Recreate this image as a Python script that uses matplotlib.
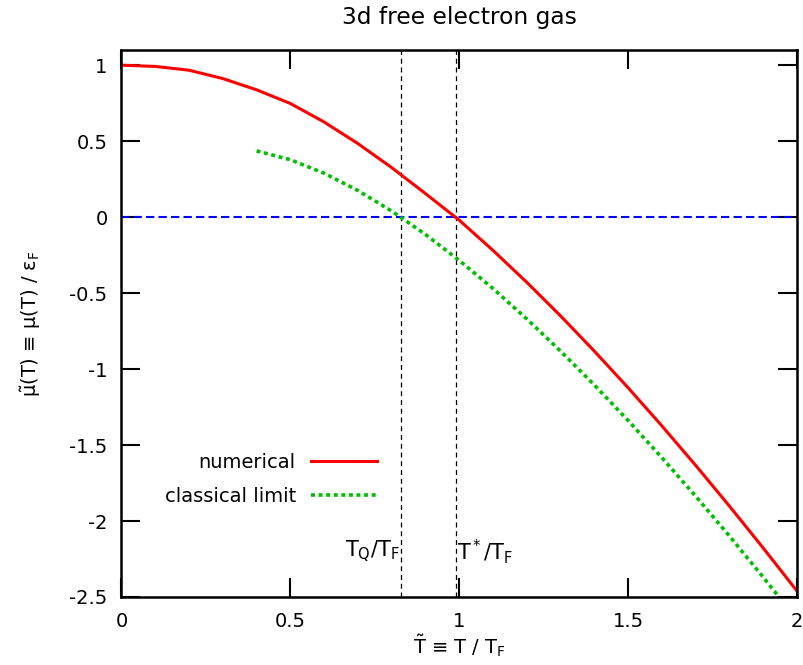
import matplotlib
matplotlib.use('Agg')
from matplotlib import pyplot as plt
from matplotlib.ticker import FormatStrFormatter

# numerical chemical potential
t_num = [0.0, 0.1, 0.2, 0.3, 0.4, 0.5, 0.6, 0.7, 0.8, 0.9, 1.0,
         1.1, 1.2, 1.3, 1.4, 1.5, 1.6, 1.7, 1.8, 1.9, 2.0]
mu_num = [1.0, 0.992, 0.967, 0.912, 0.838, 0.748, 0.626, 0.484, 0.326, 0.155, -0.020,
          -0.219, -0.429, -0.650, -0.882, -1.123, -1.374, -1.634, -1.902, -2.178, -2.461]

# classical limit
t_cl = [0.4, 0.5, 0.6, 0.7, 0.8, 0.9, 1.0, 1.1, 1.2, 1.3, 1.4,
        1.5, 1.6, 1.7, 1.8, 1.9, 2.0]
mu_cl = [0.436, 0.378, 0.289, 0.175, 0.040, -0.114, -0.285, -0.470, -0.670, -0.882, -1.105,
         -1.339, -1.583, -1.837, -2.099, -2.370, -2.649]

t_q = 0.827      # T_Q / T_F
t_star = 0.989   # T* / T_F

xticks = [0, 0.5, 1, 1.5, 2]
yticks = [1, 0.5, 0, -0.5, -1, -1.5, -2, -2.5]


def run():
    plt.rcParams['font.family'] = ['DejaVu Sans']
    plt.rcParams['font.size'] = 14
    plt.rcParams['mathtext.fontset'] = 'dejavusans'
    plt.rcParams['axes.unicode_minus'] = False

    fig = plt.figure(figsize=(8.04, 6.65), dpi=100)
    ax = fig.add_axes([0.1511, 0.1023, 0.8402, 0.8225])

    # guide lines
    ax.axvline(t_q, color='black', lw=0.9, dashes=(4, 3))
    ax.axvline(t_star, color='black', lw=0.9, dashes=(4, 3))
    ax.plot([0, 2], [0, 0], color='#0000ff', lw=1.5, dashes=(4, 2))

    # curves
    ax.plot(t_num, mu_num, color='#ff0000', lw=2.2, label='numerical')
    ax.plot(t_cl, mu_cl, color='#00c000', lw=2.6, dashes=(1.1, 1.0),
            label='classical limit')

    ax.text(t_q - 0.003, -2.2, r'T$_\mathrm{Q}$/T$_\mathrm{F}$', ha='right', va='center',
            fontsize=15)
    ax.text(t_star + 0.005, -2.2, r'T$^*$/T$_\mathrm{F}$', ha='left', va='center',
            fontsize=15)

    ax.set_xlim(0, 2)
    ax.set_ylim(-2.5, 1.1)
    ax.set_xticks(xticks)
    ax.set_yticks(yticks)
    ax.xaxis.set_major_formatter(FormatStrFormatter('%g'))
    ax.yaxis.set_major_formatter(FormatStrFormatter('%g'))
    ax.tick_params(direction='in', length=14, width=1.5, top=True, right=True)
    ax.tick_params(axis='x', pad=11)
    ax.tick_params(axis='y', pad=10)
    for s in ax.spines.values():
        s.set_linewidth(1.8)

    ax.set_title('3d free electron gas', pad=19)
    ax.set_xlabel(r'$\tilde{\mathrm{T}}$ ≡ T / T$_\mathrm{F}$', labelpad=1)
    ax.set_ylabel(r'$\tilde{\mathrm{μ}}$(T) ≡ μ(T) / ε$_\mathrm{F}$', labelpad=19)

    ax.legend(loc='center', bbox_to_anchor=(0.2213, 0.2148), frameon=False,
              markerfirst=False, handlelength=3.4, handletextpad=0.8,
              labelspacing=0.8)

    fig.savefig('out.png', dpi=100)


if __name__ == '__main__':
    run()
